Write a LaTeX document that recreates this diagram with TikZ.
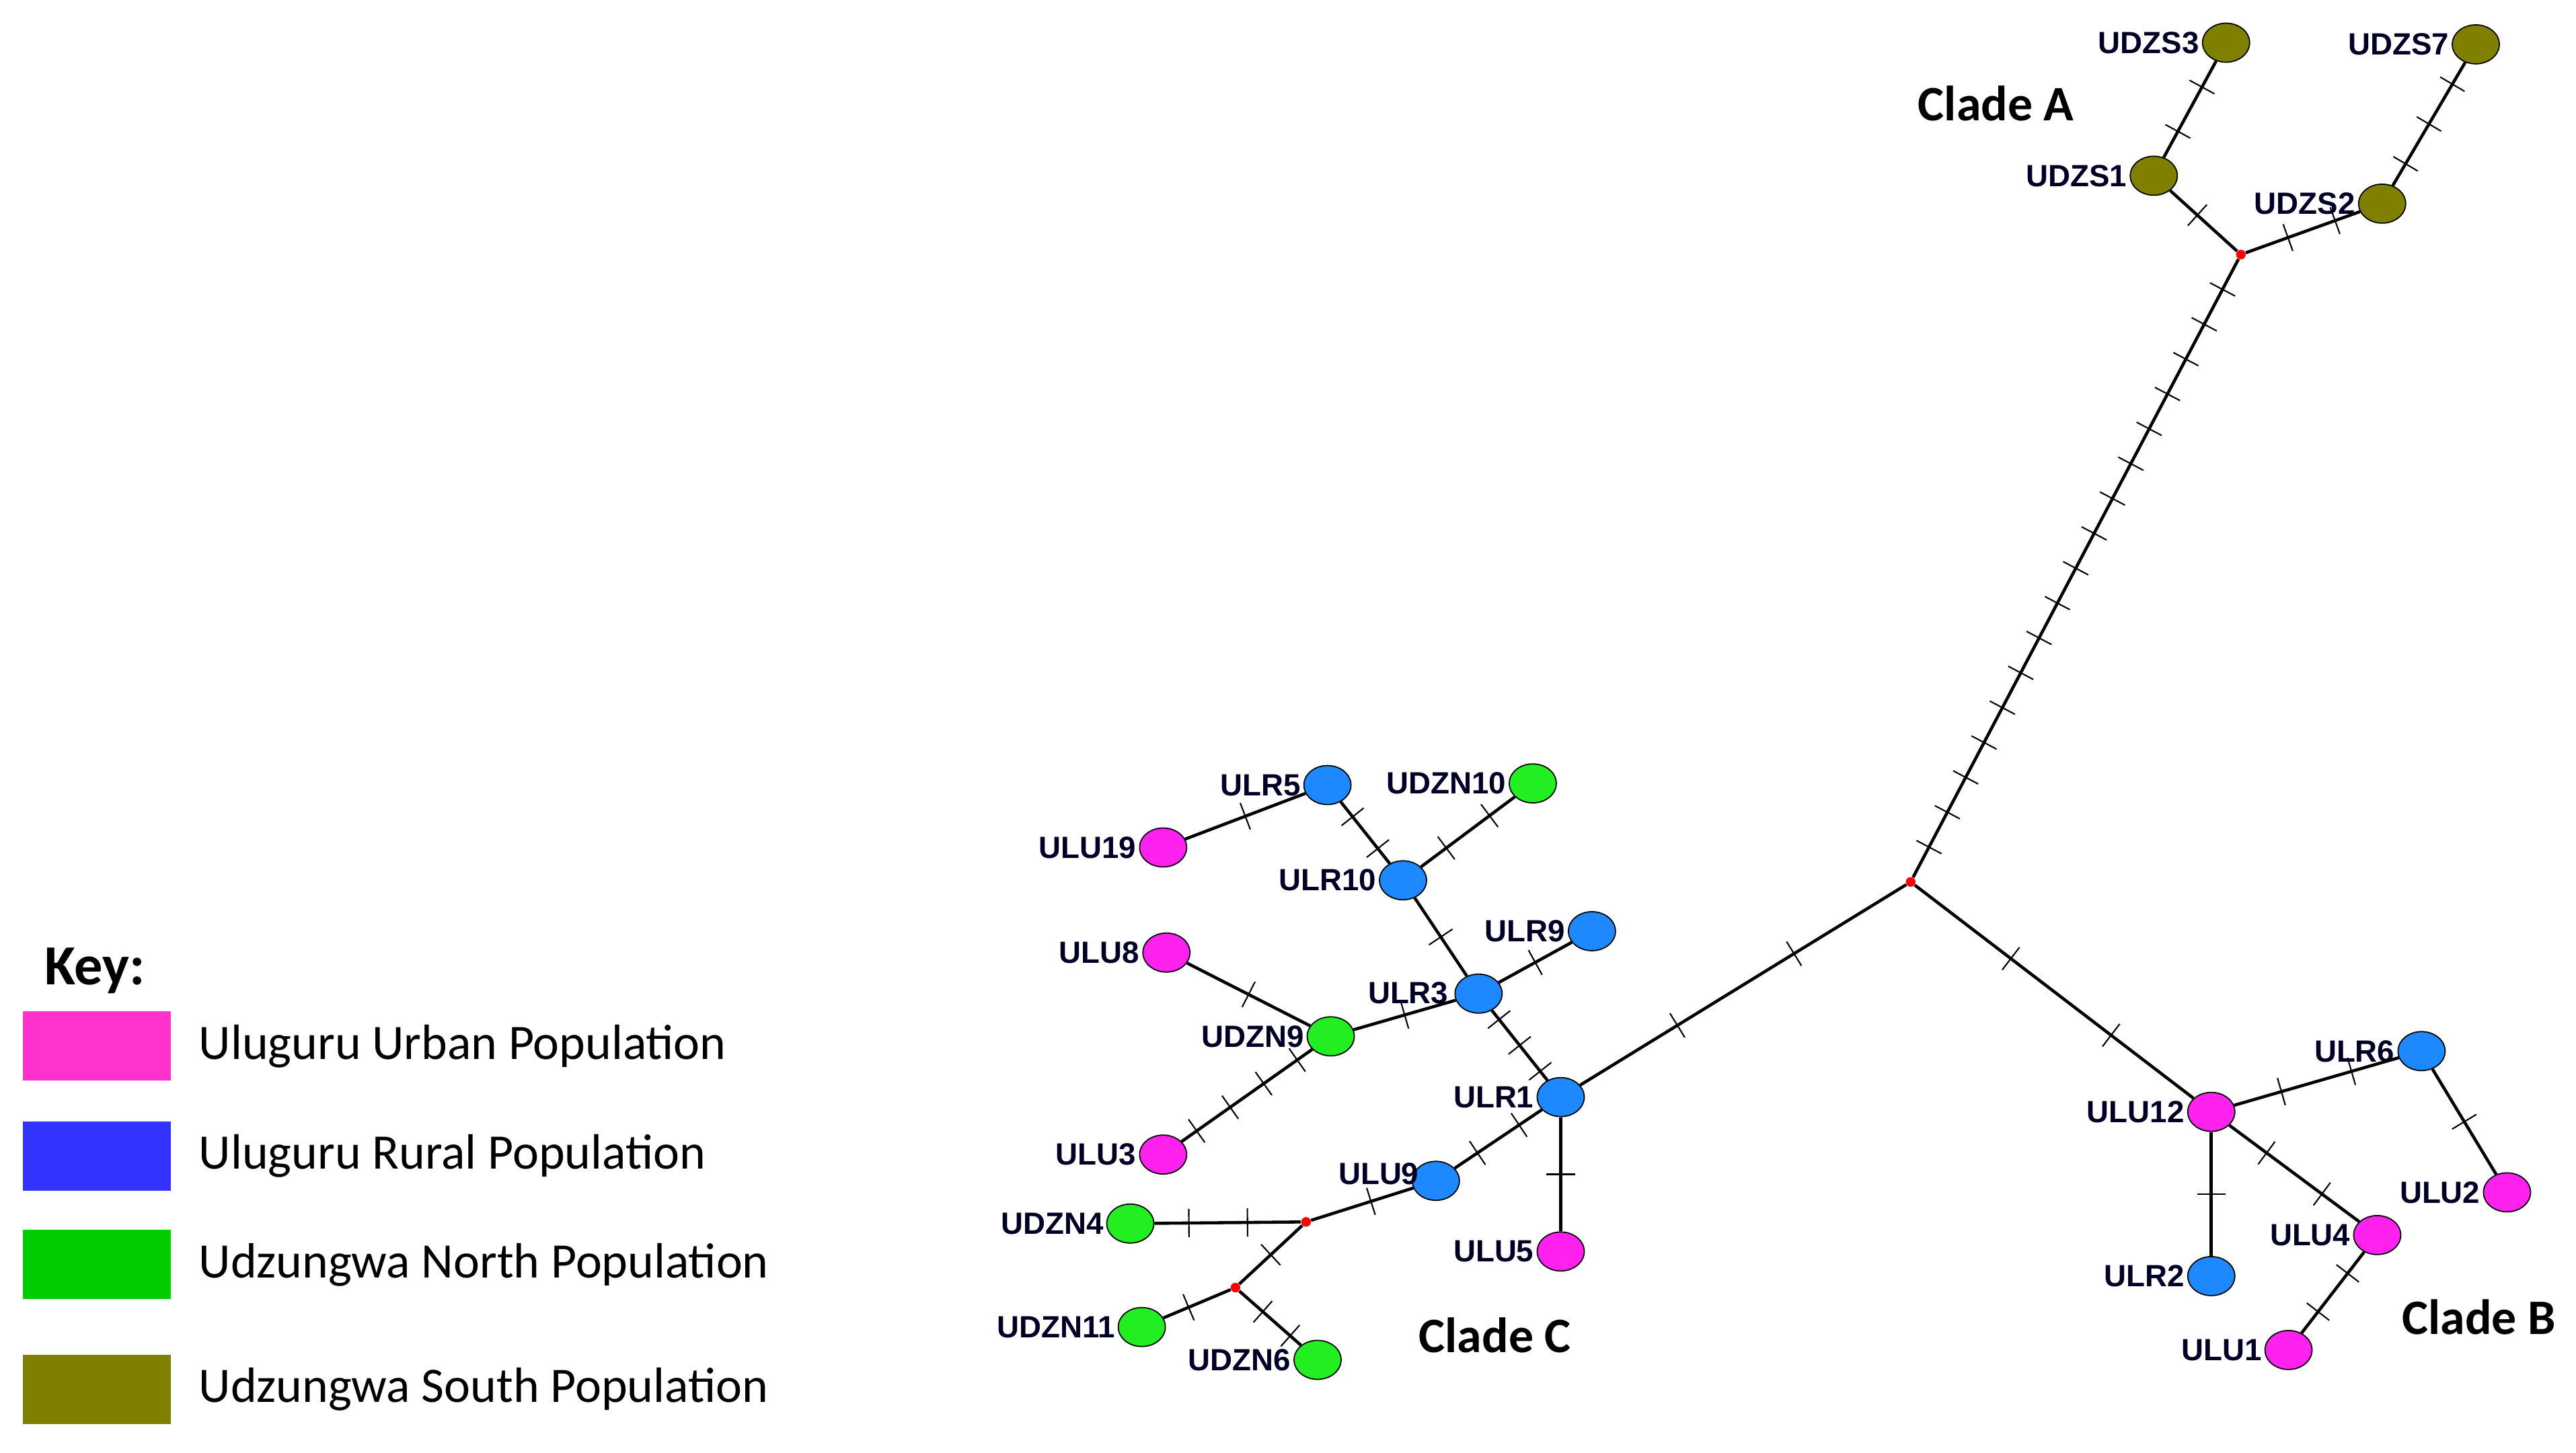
\documentclass[tikz,border=0pt]{standalone}
\usepackage{fontspec}
\setmainfont{Liberation Sans}
\newfontfamily\carl{Carlito}
\usetikzlibrary{shapes.geometric,calc}
\definecolor{pk}{HTML}{FF22EE}
\definecolor{bl}{HTML}{1E88FF}
\definecolor{gr}{HTML}{22EE22}
\definecolor{ol}{HTML}{808000}
\definecolor{kpk}{HTML}{FF33CC}
\definecolor{kbl}{HTML}{3333FF}
\definecolor{kgr}{HTML}{00CC00}
\newcommand{\tkedge}[3]{%
  \draw[edge] (#1) -- (#2);
  \foreach \i in {1,...,#3}{%
    \pgfmathsetmacro{\f}{\i/(#3+1)}
    \draw[tick] ($($(#1)!\f!(#2)$)!6pt!90:(#2)$) -- ($($(#1)!\f!(#2)$)!6pt!-90:(#2)$);
  }}
\begin{document}
\begin{tikzpicture}[x=0.024426cm,y=-0.024426cm,
  hap/.style={ellipse,draw=black,line width=0.5pt,minimum width=0.7cm,minimum height=0.58cm,inner sep=0pt},
  U/.style={hap,fill=pk}, R/.style={hap,fill=bl}, N/.style={hap,fill=gr}, S/.style={hap,fill=ol},
  med/.style={circle,fill=red,inner sep=0pt,minimum size=4pt},
  edge/.style={line width=1.3pt},
  tick/.style={line width=0.6pt},
  lab/.style={font=\fontsize{13}{15}\selectfont\bfseries,text=black!85!blue,inner sep=1pt},
  clade/.style={font=\carl\fontsize{21}{24}\selectfont\bfseries},
  key/.style={font=\carl\fontsize{21}{24}\selectfont,anchor=west},
  box/.style={minimum width=2.2cm,minimum height=1.03cm,inner sep=0pt}]
\useasboundingbox (0,0) rectangle (1568,884.7);
% nodes
\node[S] (UDZS3) at (1355,26) {}; \node[S] (UDZS7) at (1507,27) {};
\node[S] (UDZS1) at (1311,107) {}; \node[S] (UDZS2) at (1450,124) {};
\node[med] (mA) at (1364,155) {};
\node[med] (M) at (1163,537) {};
\node[R] (ULR1) at (950,668) {}; \node[U] (ULU5) at (950,762) {};
\node[R] (ULU9) at (874,719) {}; \node[med] (m1) at (795,744) {};
\node[N] (UDZN4) at (688,745) {}; \node[med] (m2) at (752,784) {};
\node[N] (UDZN11) at (695,808) {}; \node[N] (UDZN6) at (802,828) {};
\node[R] (ULR3) at (900,605) {}; \node[R] (ULR9) at (969,567) {};
\node[N] (UDZN9) at (810,631) {}; \node[U] (ULU8) at (710,580) {};
\node[U] (ULU3) at (708,703) {}; \node[R] (ULR10) at (854,536) {};
\node[R] (ULR5) at (808,478) {}; \node[N] (UDZN10) at (933,477) {};
\node[U] (ULU19) at (708,516) {};
\node[U] (ULU12) at (1346,677) {}; \node[R] (ULR6) at (1474,640) {};
\node[U] (ULU2) at (1526,726) {}; \node[U] (ULU4) at (1447,752) {};
\node[U] (ULU1) at (1393,822) {}; \node[R] (ULR2) at (1346,777) {};
% labels
\foreach \n in {UDZS3,UDZS7,UDZS1,UDZS2,ULR1,ULU5,UDZN4,UDZN11,UDZN6,ULR9,UDZN9,ULU8,ULU3,ULR10,ULR5,UDZN10,ULU19,ULU12,ULR6,ULU2,ULU4,ULU1,ULR2}
  \node[lab,anchor=east] at (\n.west) {\n};
\node[lab,anchor=south east] at ($(ULU9.west)+(6,4)$) {ULU9};
\node[lab,anchor=south east] at ($(ULR3.west)+(-2,8)$) {ULR3};
% edges
\tkedge{UDZS1}{UDZS3}{2}
\tkedge{UDZS2}{UDZS7}{3}
\tkedge{mA}{UDZS1}{1}
\tkedge{mA}{UDZS2}{2}
\tkedge{mA}{M}{17}
\tkedge{M}{ULR1}{2}
\tkedge{M}{ULU12}{2}
\tkedge{ULU12}{ULR6}{2}
\tkedge{ULR6}{ULU2}{1}
\tkedge{ULU12}{ULU4}{2}
\tkedge{ULU4}{ULU1}{2}
\tkedge{ULU12}{ULR2}{1}
\tkedge{ULR1}{ULU5}{1}
\tkedge{ULR1}{ULU9}{2}
\tkedge{ULU9}{m1}{1}
\tkedge{m1}{UDZN4}{2}
\tkedge{m1}{m2}{1}
\tkedge{m2}{UDZN11}{1}
\tkedge{m2}{UDZN6}{2}
\tkedge{ULR1}{ULR3}{3}
\tkedge{ULR3}{ULR9}{1}
\tkedge{ULR3}{UDZN9}{1}
\tkedge{UDZN9}{ULU8}{1}
\tkedge{UDZN9}{ULU3}{4}
\tkedge{ULR3}{ULR10}{1}
\tkedge{ULR10}{ULR5}{2}
\tkedge{ULR10}{UDZN10}{2}
\tkedge{ULR5}{ULU19}{1}
\foreach \m in {mA,M,m1,m2} \fill[red] (\m) circle (2pt);
% clades
\node[clade] (cA) at (1215,63) {Clade A};
\node[clade] (cB) at (1509,802) {Clade B};
\node[clade] (cC) at (910,813) {Clade C};
% legend
\node[font=\carl\fontsize{24}{28}\selectfont\bfseries,anchor=west] (key) at (22,591) {Key:};
\node[box,fill=kpk] (b1) at (59,637) {}; \node[key] (t1) at (116,637) {Uluguru Urban Population};
\node[box,fill=kbl] (b2) at (59,704) {}; \node[key] (t2) at (116,704) {Uluguru Rural Population};
\node[box,fill=kgr] (b3) at (59,770) {}; \node[key] (t3) at (116,770) {Udzungwa North Population};
\node[box,fill=ol] (b4) at (59,846) {}; \node[key] (t4) at (116,846) {Udzungwa South Population};
\end{tikzpicture}
\end{document}
